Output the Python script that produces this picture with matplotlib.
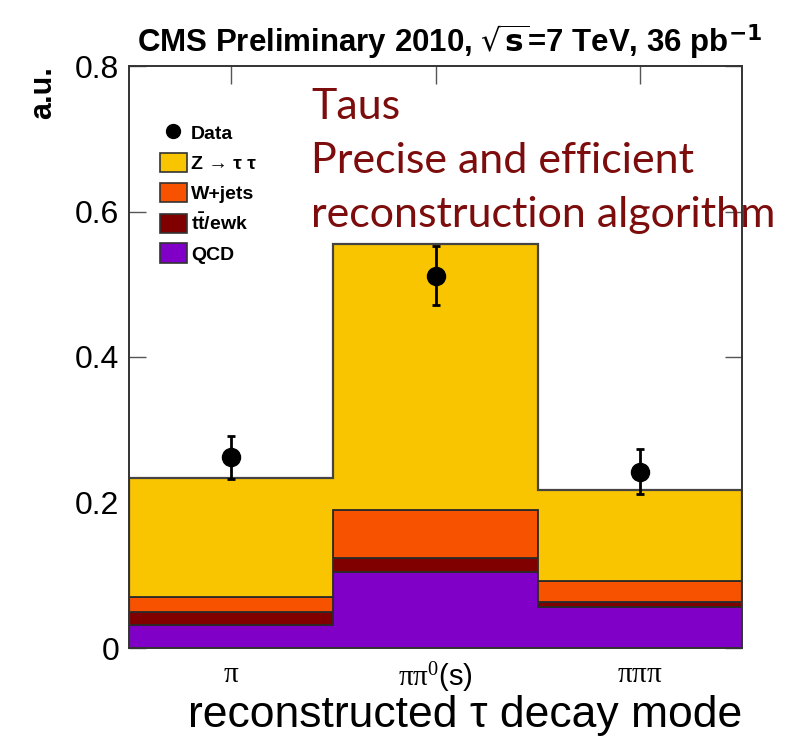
import numpy as np
import matplotlib
matplotlib.use("Agg")
import matplotlib.pyplot as plt
from matplotlib.patches import Patch
from matplotlib.lines import Line2D

plt.rcParams['font.family'] = ['Liberation Sans', 'DejaVu Sans']
plt.rcParams['mathtext.fontset'] = 'custom'
plt.rcParams['mathtext.rm'] = 'Liberation Serif'
plt.rcParams['mathtext.it'] = 'Liberation Serif:italic'
plt.rcParams['mathtext.bf'] = 'Liberation Sans:bold'

# decay modes (bins)
modes = [r'$\mathrm{\pi}$', r'$\mathrm{\pi\pi}^{0}$(s)', r'$\mathrm{\pi\pi\pi}$']

# stacked backgrounds, bottom to top
qcd = [0.031, 0.105, 0.057]
ttbar_ewk = [0.019, 0.0185, 0.0065]
wjets = [0.020, 0.0665, 0.028]
ztautau = [0.164, 0.365, 0.126]

# data with errors
data = [0.262, 0.512, 0.242]
data_err = [0.030, 0.041, 0.031]

components = [
    (qcd, '#8000c8', 'QCD'),
    (ttbar_ewk, '#800000', r'$\mathbf{t\bar{t}}$/ewk'),
    (wjets, '#f75200', 'W+jets'),
    (ztautau, '#f9c400', 'Z \u2192 \u03c4 \u03c4'),
]

W, H = 797, 739
fig = plt.figure(figsize=(W / 100, H / 100), dpi=100)
ax = fig.add_axes([129 / W, 1 - 648 / H, (742 - 129) / W, (648 - 66) / H])
ax.set_axisbelow(True)

x = np.arange(len(modes))
edges = np.arange(len(modes) + 1) - 0.5
bottom = np.zeros(len(modes))
for vals, col, lab in components:
    top = bottom + np.array(vals)
    ax.stairs(top, edges, baseline=bottom, fill=True, facecolor=col,
              edgecolor='#2a2a2a', linewidth=1.3, zorder=1)
    bottom = top
# outline of total
ax.stairs(bottom, edges, baseline=0, fill=False, edgecolor='#444444',
          linewidth=1.6, zorder=2)

ax.errorbar(x, data, yerr=data_err, fmt='o', color='black', ms=13,
            elinewidth=2, capsize=3, capthick=2, zorder=5)

ax.set_xlim(-0.5, 2.5)
ax.set_ylim(0, 0.8)
ax.set_yticks([0, 0.2, 0.4, 0.6, 0.8])
ax.set_yticklabels(['0', '0.2', '0.4', '0.6', '0.8'])
ax.set_xticks(x)
ax.set_xticklabels(modes)
ax.tick_params(axis='y', direction='in', length=12, width=1, right=True,
               labelsize=23, pad=7, color='#555555')
ax.tick_params(axis='x', direction='in', length=13, width=1, top=True,
               bottom=False, labelsize=21, pad=9, color='#555555')
for s in ax.spines.values():
    s.set_color('#333333')
    s.set_linewidth(1.4)
    s.set_zorder(6)

ax.set_xlabel('reconstructed \u03c4 decay mode', fontsize=32, loc='right',
              labelpad=0)
ax.set_ylabel('a.u.', fontsize=22, fontweight='bold', loc='top', labelpad=12)

fig.text(450 / W, 1 - 42 / H,
         r'CMS Preliminary 2010, $\mathbf{\sqrt{s}}$=7 TeV, 36 pb$^{\mathbf{-1}}$',
         fontsize=22.5, fontweight='bold', ha='center', va='center',
         math_fontfamily='dejavusans')

handles = [Line2D([], [], marker='o', color='black', ls='none', ms=10)]
labels = ['Data']
for vals, col, lab in components[::-1]:
    handles.append(Patch(facecolor=col, edgecolor='#333333', linewidth=1.2))
    labels.append(lab)
ax.legend(handles, labels, loc='upper left', frameon=False,
          bbox_to_anchor=(150 / W, 1 - 113 / H), bbox_transform=fig.transFigure,
          prop={'weight': 'bold', 'size': 14},
          handlelength=1.4, handleheight=1.15, labelspacing=0.5,
          handletextpad=0.2, borderpad=0)

overlay = ['Taus', 'Precise and efficient', 'reconstruction algorithm']
for i, line in enumerate(overlay):
    fig.text(311 / W, 1 - (119 + 54 * i) / H, line, fontsize=31,
             color='#7d0c0c', fontfamily='Lato', va='baseline', ha='left')

fig.savefig('out.png', dpi=100)
